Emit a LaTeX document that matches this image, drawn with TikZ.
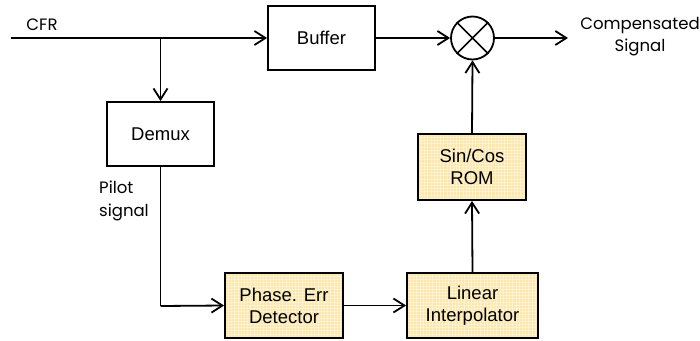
\documentclass[tikz,border=0pt]{standalone}
\usepackage{fontspec}
\setmainfont{Liberation Sans}
\newfontfamily\labelfont{Poppins}
\usetikzlibrary{arrows.meta,calc}
\definecolor{romyellow}{HTML}{FCE8AE}
\tikzset{
  wire/.style={line width=1.8pt,-{Straight Barb[length=11pt,width=14pt,line width=1.8pt]}},
  plainwire/.style={line width=1.8pt},
  blockbox/.style={draw,line width=1.8pt,minimum width=107pt,minimum height=64pt,
    align=center,inner sep=0pt,font=\fontsize{18.5}{22}\selectfont},
  hatchfill/.style={fill=romyellow,path picture={
      \foreach \k in {0,3.2,...,140}{
        \draw[white,opacity=0.35,line width=0.5pt]
          ($(path picture bounding box.south west)+(\k,0)$) -- ($(path picture bounding box.north west)+(\k,0)$);
        \draw[white,opacity=0.35,line width=0.5pt]
          ($(path picture bounding box.north west)+(0,\k)$) -- ($(path picture bounding box.north east)+(0,\k)$);
      }}},
  sigtext/.style={font=\labelfont\fontsize{16.5}{22.5}\selectfont,inner sep=0pt,align=center}
}
\begin{document}
\begin{tikzpicture}[x=1pt,y=-1pt]
\useasboundingbox (0,0) rectangle (700,340);

% blocks
\node[blockbox] (buffer) at (321.5,38) {Buffer};
\node[blockbox] (demux) at (160.5,134) {Demux};
\node[blockbox,hatchfill,minimum width=108pt,minimum height=66pt] (rom) at (472,167) {Sin/Cos\\ROM};
\node[blockbox,hatchfill,minimum width=118pt,minimum height=65pt] (ped) at (284,305.5) {Phase. Err\\Detector};
\node[blockbox,hatchfill,minimum width=131pt,minimum height=65pt] (interp) at (472.5,305.5) {Linear\\Interpolator};

% multiplier
\node[draw,circle,line width=1.8pt,minimum size=43pt,inner sep=0pt] (mix) at (472.5,38) {};
\draw[line width=1.6pt] (mix.north west) -- (mix.south east) (mix.north east) -- (mix.south west);

% signal labels
\coordinate (cfrin) at (11,38);
\coordinate (tap) at (160.5,38);
\coordinate (out) at (568,38);
\coordinate (bend) at (160.5,306);
\node[sigtext] (cfr) at (42,25) {CFR};
\node[sigtext] (comp) at (640,36.5) {Compensated\\Signal};
\node[sigtext,align=left,anchor=west] (pilot) at (99,201) {Pilot\\signal};

% connectors
\draw[wire] (cfrin) -- (buffer.west);
\draw[wire] (tap) -- (demux.north);
\draw[wire] (buffer.east) -- (mix.west);
\draw[wire] (mix.east) -- (out);
\draw[plainwire] (demux.south) -- (bend);
\draw[wire] (bend) -- (ped.west);
\draw[wire] (ped.east) -- (interp.west);
\draw[wire] (interp.north) -- (rom.south);
\draw[wire] (rom.north) -- (mix.south);
\end{tikzpicture}
\end{document}
